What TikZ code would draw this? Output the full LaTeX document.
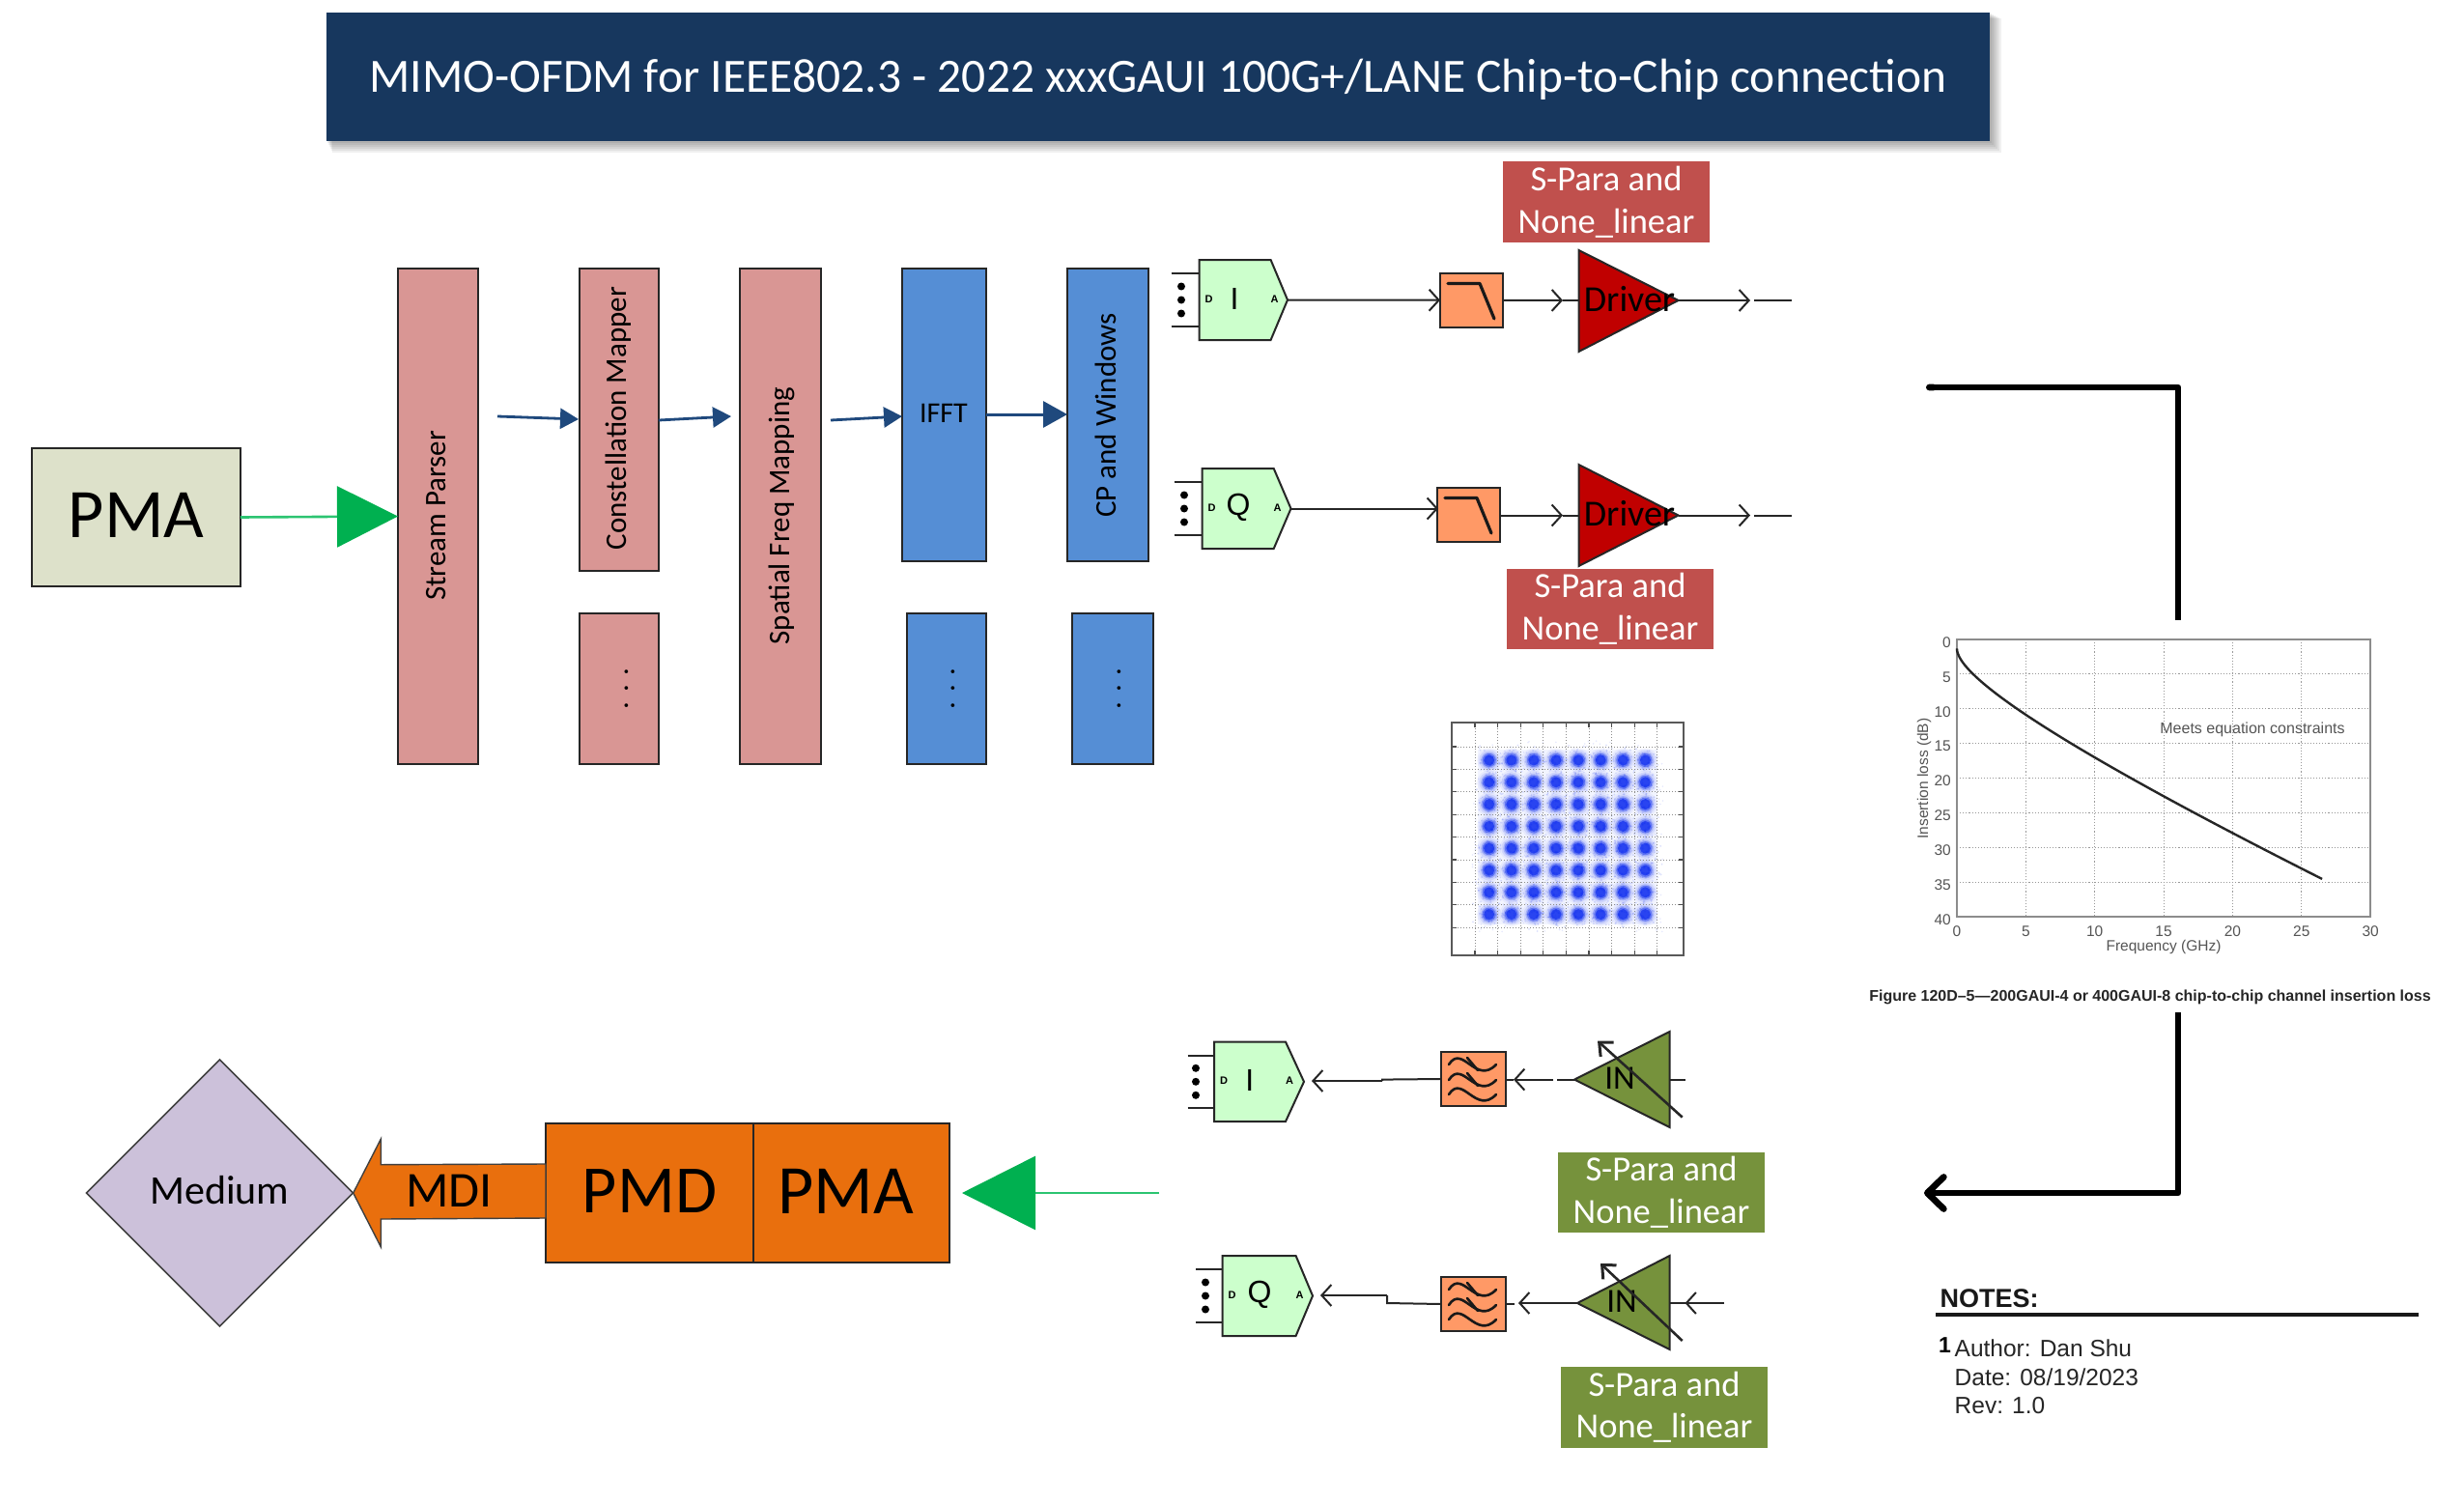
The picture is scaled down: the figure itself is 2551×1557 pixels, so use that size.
\documentclass[tikz,border=0pt]{standalone}
\usepackage{fontspec}
\setmainfont{Carlito}
\newfontfamily\arialf{Liberation Sans}
\usetikzlibrary{arrows.meta,shapes.geometric,calc}
\definecolor{navy}{HTML}{17375E}
\definecolor{pinkb}{HTML}{D99694}
\definecolor{blueb}{HTML}{558ED5}
\definecolor{flowb}{HTML}{1F497D}
\definecolor{pmaf}{HTML}{DDE1CA}
\definecolor{greena}{HTML}{00B050}
\definecolor{greenl}{HTML}{2CC471}
\definecolor{orangeb}{HTML}{E96F0D}
\definecolor{lilac}{HTML}{CCC1DA}
\definecolor{redlab}{HTML}{C0504D}
\definecolor{greenlab}{HTML}{76923C}
\definecolor{convf}{HTML}{CCFFCC}
\definecolor{filt}{HTML}{FF9966}
\definecolor{drv}{HTML}{C00000}
\definecolor{scat}{HTML}{0A28F0}
\definecolor{axisg}{HTML}{555555}
\tikzset{
  block/.style={draw=black!85,line width=1.5pt,inner sep=0pt,outer sep=0pt},
  flowarrow/.style={draw=flowb,line width=2.8pt,-{Triangle[length=19pt,width=21pt]}},
  wire/.style={draw=black!85,line width=2pt},
  chev/.style={draw=black!85,line width=2pt,-{Straight Barb[length=10pt,width=22pt,line width=2pt]}},
  rot/.style={rotate=90,font=\fontsize{31pt}{33pt}\selectfont,inner sep=0pt},
  lab/.style={inner sep=0pt,outer sep=0pt,text=white,align=center,font=\fontsize{36.5pt}{43.5pt}\selectfont},
  small/.style={font=\arialf\bfseries\fontsize{11pt}{11pt}\selectfont,inner sep=0pt},
  iq/.style={font=\arialf\fontsize{32pt}{32pt}\selectfont,inner sep=0pt},
  tick/.style={font=\arialf\fontsize{15.5pt}{15.5pt}\selectfont,text=axisg,inner sep=0pt},
  note/.style={font=\arialf\fontsize{24.5pt}{29.5pt}\selectfont,text=black!85,inner sep=0pt,anchor=base west},
  thickc/.style={draw=black,line width=6.7pt,line join=round},
}
% \rb{name}{x1}{y1}{x2}{y2}{style}{text}
\newcommand{\rb}[7]{\node[#6,minimum width={(#4-#2)*1pt},minimum height={(#5-#3)*1pt}] (#1) at ({(#2+#4)/2},{(#3+#5)/2}) {#7};}
\newcommand{\conv}[9]{%
  \coordinate (#1tip) at (#4,{(#3+#6)/2});
  \draw[wire] (#7,#3+14) -- (#2,#3+14) (#7,#6-14) -- (#2,#6-14);
  \filldraw[draw=black!85,line width=2pt,fill=convf] (#2,#3) -- (#5,#3) -- (#1tip) -- (#5,#6) -- (#2,#6) -- cycle;
  \foreach \d in {-14,0,14} \fill[black] (#8,{(#3+#6)/2+\d}) circle (4pt);
  \node[iq] (#1let) at (#9,{(#3+#6)/2-1}) {\letterarg};
  \node[small] (#1d) at (#2+10,{(#3+#6)/2-1}) {D};
  \node[small] (#1a) at (#5+4,{(#3+#6)/2-1}) {A};
}
\newcommand{\letterarg}{}
\newcommand{\lpfsym}[2]{\draw[line width=3.2pt,black!90,line cap=round,line join=round] (#1+8,#2+10.5) -- (#1+41,#2+10.5) -- (#1+56,#2+47);}
\newcommand{\bpfsym}[2]{%
  \begin{scope}[shift={(#1,#2)},line width=2.6pt,black!90,line cap=round]
    \foreach \yy in {13,29,44} \draw (8,\yy) .. controls (22,\yy-22) and (36,\yy+22) .. (57,\yy);
    \draw (27,6) -- (38,19) (27,22) -- (38,35);
  \end{scope}}
\begin{document}
\begin{tikzpicture}[x=1pt,y=-1pt]
\useasboundingbox (0,0) rectangle (2551,1557);
\fill[white] (0,0) rectangle (2551,1557);
% title
\foreach \o in {12,10,8,6,4,2} \fill[black,opacity=0.06] (338+\o/2,13+\o/2) rectangle (2060+\o,146+\o);
\rb{title}{338}{13}{2060}{146}{fill=navy,inner sep=0pt,text=white,font=\fontsize{49.5pt}{50pt}\selectfont}{\raisebox{-16pt}[0pt][0pt]{MIMO-OFDM for IEEE802.3 - 2022 xxxGAUI 100G+/LANE Chip-to-Chip connection}}
% top left chain
\rb{pmaT}{33}{464}{249}{607}{block,fill=pmaf,font=\fontsize{72pt}{72pt}\selectfont}{\raisebox{-20.7pt}[0pt][0pt]{PMA}}
\rb{stream}{412}{278}{495}{791}{block,fill=pinkb}{}
\rb{const}{600}{278}{682}{591}{block,fill=pinkb}{}
\rb{constL}{600}{635}{682}{791}{block,fill=pinkb}{}
\rb{spatial}{766}{278}{850}{791}{block,fill=pinkb}{}
\rb{ifft}{934}{278}{1021}{581}{block,fill=blueb}{}
\rb{cp}{1105}{278}{1189}{581}{block,fill=blueb}{}
\rb{ifftL}{939}{635}{1021}{791}{block,fill=blueb}{}
\rb{cpL}{1110}{635}{1194}{791}{block,fill=blueb}{}
\node[rot] (tstream) at (452,534) {Stream Parser};
\node[rot] (tconst) at (640,433) {Constellation Mapper};
\node[rot] (tspatial) at (809,534) {Spatial Freq Mapping};
\node[rot] (tcp) at (1145,430) {CP and Windows};
\node[inner sep=0pt,font=\fontsize{30pt}{32pt}\selectfont] (tifft) at (977,428) {IFFT};
\node[rot,anchor=base] (d1) at (650,713) {. . .};
\node[rot,anchor=base] (d2) at (988,713) {. . .};
\node[rot,anchor=base] (d3) at (1160,713) {. . .};
\coordinate (a1s) at (515,431); \coordinate (a1e) at (599,434);
\coordinate (a2s) at (682,435); \coordinate (a2e) at (757,431);
\coordinate (a3s) at (860,435); \coordinate (a3e) at (934,431);
\draw[flowarrow] (a1s) -- (a1e);
\draw[flowarrow] (a2s) -- (a2e);
\draw[flowarrow] (a3s) -- (a3e);
\draw[draw=flowb,line width=3pt,-{Triangle[length=25pt,width=27pt]}] (1021,429) coordinate (a4s) -- (1105,429) coordinate (a4e);
\draw[greenl,line width=2.6pt,-{Triangle[length=63pt,width=63pt,color=greena,fill=greena]}] (pmaT.east) -- (stream.west);
% DAC I
\renewcommand{\letterarg}{I}
\conv{dacI}{1241.5}{269}{1333}{1315.6}{352}{1212.6}{1223}{1278}
\rb{fI}{1491}{283}{1555.5}{338.5}{block,fill=filt,line width=2pt}{}
\lpfsym{1491}{283}
\filldraw[draw=black!85,line width=2pt,fill=drv] (1634.5,259) coordinate (drvIa) -- (1634.5,364) coordinate (drvIb) -- (1737.5,311) coordinate (drvIt) -- cycle;
\node[inner sep=0pt,font=\fontsize{38pt}{38pt}\selectfont] (drvItx) at (1687,310) {Driver};
\draw[chev] (dacItip) -- (fI.west);
\coordinate (drvIin) at (1634.5,311);\coordinate (cI1) at (1618,311);
\draw[chev] (fI.east) -- (cI1); \draw[wire] (cI1) -- (drvIin);
\coordinate (cI2) at (1812,311);\coordinate (cI3) at (1816,311);\coordinate (eI) at (1854.6,311);
\draw[chev] (drvIt) -- (cI2); \draw[wire] (cI3) -- (eI);
% DAC Q
\renewcommand{\letterarg}{Q}
\conv{dacQ}{1244.7}{485}{1336.5}{1318.7}{568}{1215.7}{1226}{1282}
\rb{fQ}{1488}{505}{1553}{561}{block,fill=filt,line width=2pt}{}
\lpfsym{1488}{505}
\filldraw[draw=black!85,line width=2pt,fill=drv] (1634.5,481) -- (1634.5,586) -- (1737.5,533.5) coordinate (drvQt) -- cycle;
\node[inner sep=0pt,font=\fontsize{38pt}{38pt}\selectfont] (drvQtx) at (1687,532) {Driver};
\coordinate (fQin) at (1489,526.5);
\draw[chev] (dacQtip) -- (fQin);
\coordinate (fQo) at (1553,533.5);\coordinate (drvQin) at (1634.5,533.5);\coordinate (cQ1) at (1618,533.5);
\draw[chev] (fQo) -- (cQ1); \draw[wire] (cQ1) -- (drvQin);
\coordinate (cQ2) at (1812,533.5);\coordinate (cQ3) at (1816,533.5);\coordinate (eQ) at (1854.6,533.5);
\draw[chev] (drvQt) -- (cQ2); \draw[wire] (cQ3) -- (eQ);
% labels red
\rb{sp1}{1556}{167.5}{1770}{251}{lab,fill=redlab}{S-Para and\\None\_linear}
\rb{sp2}{1560}{589}{1774}{672}{lab,fill=redlab}{S-Para and\\None\_linear}
% constellation
\begin{scope}
\pgfmathsetseed{7}
\fill[scat,opacity=0.05] (1530,776) rectangle (1716,957);
\foreach \ix in {0,...,7}{\foreach \iy in {0,...,7}{
  \pgfmathsetmacro{\cx}{1541.7+23.1*\ix}
  \pgfmathsetmacro{\cy}{787+22.8*\iy}
  \fill[scat,opacity=0.05] (\cx,\cy) circle (12.5pt);
  \fill[scat,opacity=0.10] (\cx,\cy) circle (10.5pt);
  \fill[scat,opacity=0.22] (\cx,\cy) circle (8.5pt);
  \fill[scat,opacity=0.40] (\cx,\cy) circle (7pt);
  \fill[scat,opacity=0.65] (\cx,\cy) circle (5.5pt);
  \foreach \n in {1,...,45}{
    \pgfmathsetmacro{\ang}{rnd*360}
    \pgfmathsetmacro{\rad}{18*rnd*rnd+3}
    \fill[scat,opacity=0.14] ({\cx+\rad*cos(\ang)},{\cy+\rad*sin(\ang)}) circle (1pt);
  }
}}
\foreach \n in {1,...,500}{
  \pgfmathsetmacro{\px}{1524+rnd*198}
  \pgfmathsetmacro{\py}{767+rnd*198}
  \fill[scat,opacity=0.10] (\px,\py) circle (0.9pt);
}
\foreach \k in {0,...,8}{
  \pgfmathsetmacro{\gx}{1527+23.6*\k}
  \pgfmathsetmacro{\gy}{773+23.4*\k}
  \draw[black!45,line width=1pt,dotted] (\gx,748) -- (\gx,989);
  \draw[black!45,line width=1pt,dotted] (1503,\gy) -- (1743,\gy);
  \draw[black!70,line width=1.2pt] (\gx,748) -- (\gx,753) (\gx,989) -- (\gx,984) (1503,\gy) -- (1508,\gy) (1743,\gy) -- (1738,\gy);
}
\end{scope}
\rb{scatter}{1503}{748}{1743}{989}{draw=black!65,line width=2pt}{}
% chart
\foreach \v in {5,10,...,25} \draw[black!40,line width=1.1pt,dotted] (2026+\v*14.27,662) -- (2026+\v*14.27,949);
\foreach \v in {5,10,...,35} \draw[black!40,line width=1.1pt,dotted] (2026,662+\v*7.175) -- (2454,662+\v*7.175);
\rb{chart}{2026}{662}{2454}{949}{draw=black!45,line width=1.8pt}{}
\foreach \v in {0,5,...,40} \node[tick,anchor=east] (yt\v) at (2020,{662+\v*7.175+3}) {\v};
\foreach \v in {0,5,...,30} \node[tick] (xt\v) at ({2026+\v*14.27},964) {\v};
\node[tick,rotate=90] (ylab) at (1992,806) {Insertion loss (dB)};
\node[tick] (xlab) at (2240,980) {Frequency (GHz)};
\node[tick,font=\arialf\fontsize{16pt}{16pt}\selectfont] (meets) at (2332,755) {Meets equation constraints};
\draw[black!85,line width=2.4pt,x=14.27pt,y=-7.175pt,shift={(2026pt,-662pt)}] plot[domain=0:5.148,samples=90] ({\x*\x},{1.3+2.6*\x+0.75*\x*\x});
\node[font=\arialf\bfseries\fontsize{16pt}{16pt}\selectfont,inner sep=0pt,text=black!85] (cap) at (2226,1032) {Figure 120D–5—200GAUI-4 or 400GAUI-8 chip-to-chip channel insertion loss};
% thick connectors
\coordinate (tcA) at (1994,401); \coordinate (tcB) at (2255,401); \coordinate (tcC) at (2255,642);
\draw[thickc,{Round Cap[]}-] (tcA) -- (tcB) -- (tcC);
\coordinate (tcD) at (2255,1048); \coordinate (tcE) at (2255,1235); \coordinate (tcF) at (1992,1235);
\draw[thickc,-{Straight Barb[length=17pt,width=33pt,line width=6.7pt,round]}] (tcD) -- (tcE) -- (tcF);
% ADC I
\renewcommand{\letterarg}{I}
\conv{adcI}{1257}{1078.6}{1350}{1331}{1161}{1229.6}{1238}{1293.7}
\rb{bI}{1492}{1089}{1559}{1145}{block,fill=filt,line width=2pt}{}
\bpfsym{1492}{1089}
\filldraw[draw=black!85,line width=2pt,fill=greenlab] (1630,1117.6) coordinate (inIt) -- (1728.6,1068) -- (1728.6,1167) -- cycle;
\node[inner sep=0pt,font=\fontsize{35pt}{35pt}\selectfont] (inItx) at (1677,1116) {IN};
\coordinate (cw1) at (1431,1119); \coordinate (cw2) at (1431,1117.6); \coordinate (ca) at (1358,1119);
\draw[wire] (bI.west) -- (cw2) -- (cw1);
\draw[chev] (cw1) -- (ca);
\coordinate (cb) at (1608,1117.6);\coordinate (cbs) at (1612,1117.6);\coordinate (fbI) at (1567,1117.6);
\draw[chev] (cb) -- (fbI); \draw[wire] (cbs) -- (inIt);
\draw[wire] (bI.east |- fbI) -- (fbI);
\coordinate (inIr) at (1728.6,1117.6); \coordinate (inIe) at (1745,1117.6);
\draw[wire] (inIr) -- (inIe);
\coordinate (vgaIa) at (1741.7,1156.6); \coordinate (vgaIb) at (1654,1077.6);
\draw[chev,line width=2.6pt,-{Straight Barb[length=11pt,width=20pt,line width=3pt]}] (vgaIa) -- (vgaIb);
% ADC Q
\renewcommand{\letterarg}{Q}
\conv{adcQ}{1265.6}{1300}{1359}{1341.6}{1383}{1238}{1248}{1304}
\rb{bQ}{1492}{1322}{1559}{1378}{block,fill=filt,line width=2pt}{}
\bpfsym{1492}{1322}
\filldraw[draw=black!85,line width=2pt,fill=greenlab] (1633,1349) coordinate (inQt) -- (1728.6,1300) -- (1728.6,1397) -- cycle;
\node[inner sep=0pt,font=\fontsize{35pt}{35pt}\selectfont] (inQtx) at (1679,1347) {IN};
\coordinate (qw1) at (1436,1341); \coordinate (qw2) at (1436,1349); \coordinate (qa) at (1367,1341);
\draw[wire] (bQ.west) -- (qw2) -- (qw1);
\draw[chev] (qw1) -- (qa);
\coordinate (qb) at (1615,1349);\coordinate (qfb) at (1572,1349);
\draw[chev] (qb) -- (qfb);
\draw[wire] (bQ.east) -- (1568,1350) coordinate (qfs);
\draw[wire] (inQt) -- (qb);
\coordinate (inQr) at (1728.6,1349); \coordinate (inQc) at (1744.5,1349); \coordinate (inQe) at (1785,1349);
\draw[chev] (inQe) -- (inQc); \draw[wire] (inQc) -- (inQr);
\coordinate (vgaQa) at (1741.7,1388); \coordinate (vgaQb) at (1657,1308);
\draw[chev,line width=2.6pt,-{Straight Barb[length=11pt,width=20pt,line width=3pt]}] (vgaQa) -- (vgaQb);
\rb{sp3}{1613}{1193}{1827}{1276}{lab,fill=greenlab}{S-Para and\\None\_linear}
\rb{sp4}{1616}{1415}{1830}{1499}{lab,fill=greenlab}{S-Para and\\None\_linear}
% bottom left
\node[diamond,aspect=1,draw=black!75,line width=1.6pt,fill=lilac,minimum size=276pt,inner sep=0pt,outer sep=0pt,font=\fontsize{42pt}{42pt}\selectfont] (medium) at (227.5,1235) {\raisebox{-11.5pt}[0pt][0pt]{Medium}};
\rb{pmd}{565}{1163}{780}{1307}{block,fill=orangeb,font=\fontsize{70pt}{70pt}\selectfont}{\raisebox{-20.5pt}[0pt][0pt]{PMD}}
\rb{pmaB}{780}{1163}{983}{1307}{block,fill=orangeb,font=\fontsize{72pt}{72pt}\selectfont}{\raisebox{-21pt}[0pt][0pt]{\hspace{-12pt}PMA}}
\coordinate (mdiS) at (565,1233);\coordinate (mdiT) at (365.7,1235);
\filldraw[draw=black!75,line width=1.4pt,fill=orangeb] (565,1205) -- (394.4,1205.7) -- (394.4,1179) -- (mdiT) -- (394.4,1291) -- (394.4,1262) -- (565,1261) -- cycle;
\node[inner sep=0pt,font=\fontsize{52pt}{52pt}\selectfont] (mdi) at (465,1233) {MDI};
\coordinate (gS) at (1200,1235); \coordinate (gT) at (996,1235);
\draw[greenl,line width=2.6pt,-{Triangle[length=76pt,width=76pt,color=greena,fill=greena]}] (gS) -- (gT);
% notes
\node[font=\arialf\bfseries\fontsize{27pt}{27pt}\selectfont,inner sep=0pt,anchor=west,text=black!90] (notes) at (2008.5,1344) {NOTES:};
\coordinate (nl1) at (2004,1361);\coordinate (nl2) at (2504,1361);
\draw[black!90,line width=3.6pt] (nl1) -- (nl2);
\node[font=\arialf\bfseries\fontsize{23pt}{23pt}\selectfont,inner sep=0pt,anchor=west] (n1) at (2007,1392.5) {1};
\node[note] (nA) at (2023.5,1404.5) {Author: Dan Shu};
\node[note] (nD) at (2023.5,1434) {Date: 08/19/2023};
\node[note] (nR) at (2023.5,1463.5) {Rev: 1.0};
\end{tikzpicture}
\end{document}
